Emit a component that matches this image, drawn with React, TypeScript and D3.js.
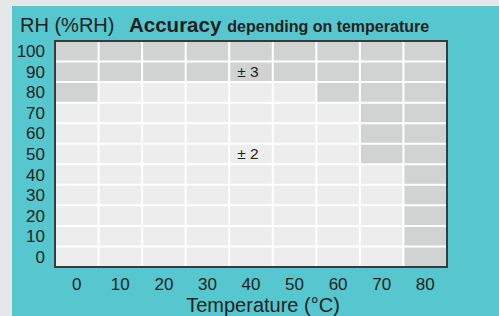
import React from 'react';
import * as d3 from 'd3';

// Accuracy grid: rows are RH (%RH), columns are temperature (°C)
const temps = ['0', '10', '20', '30', '40', '50', '60', '70', '80'];
const rhLevels = ['100', '90', '80', '70', '60', '50', '40', '30', '20', '10', '0'];

// accuracy (±%RH) for each RH row, per temperature column
const accuracy: number[][] = [
  [3, 3, 3, 3, 3, 3, 3, 3, 3], // 100
  [3, 3, 3, 3, 3, 3, 3, 3, 3], // 90
  [3, 2, 2, 2, 2, 2, 3, 3, 3], // 80
  [2, 2, 2, 2, 2, 2, 2, 3, 3], // 70
  [2, 2, 2, 2, 2, 2, 2, 3, 3], // 60
  [2, 2, 2, 2, 2, 2, 2, 3, 3], // 50
  [2, 2, 2, 2, 2, 2, 2, 2, 3], // 40
  [2, 2, 2, 2, 2, 2, 2, 2, 3], // 30
  [2, 2, 2, 2, 2, 2, 2, 2, 3], // 20
  [2, 2, 2, 2, 2, 2, 2, 2, 3], // 10
  [2, 2, 2, 2, 2, 2, 2, 2, 3], // 0
];

const zoneLabels = [
  { text: '± 3', temp: '40', rh: '90' },
  { text: '± 2', temp: '40', rh: '50' },
];

const W = 499;
const H = 316;
const FONT = '"Liberation Sans", Arial, Helvetica, sans-serif';
const TEXT = '#231f20';

export default function App() {
  const margin = { top: 41, right: 52, bottom: 49, left: 55 };

  const x = d3.scaleBand<string>()
    .domain(temps)
    .range([margin.left, W - margin.right]);

  const y = d3.scaleBand<string>()
    .domain(rhLevels)
    .range([margin.top, H - margin.bottom]);

  const color = d3.scaleOrdinal<number, string>()
    .domain([2, 3])
    .range(['#ededed', '#d1d3d2']);

  const [x0, x1] = x.range();
  const [y0, y1] = y.range();

  return (
    <svg
      width={W}
      height={H}
      style={{ position: 'absolute', left: 0, top: 0, display: 'block' }}
      fontFamily={FONT}
    >
      <rect width={W} height={H} fill="#e6e7e8" />
      <rect x={12} y={6} width={W - 12} height={H - 6} fill="#56c6cf" />

      {/* title */}
      <text x={20} y={32} fill={TEXT} fontSize={20}>
        RH (%RH)
        <tspan x={129} fontWeight="bold" fontSize={20.5}>Accuracy</tspan>
        <tspan dx={6} fontWeight="bold" fontSize={16}>depending on temperature</tspan>
      </text>

      {/* cells */}
      {rhLevels.map((rh, i) =>
        temps.map((t, j) => (
          <rect
            key={`${rh}-${t}`}
            x={x(t)}
            y={y(rh)}
            width={x.bandwidth()}
            height={y.bandwidth()}
            fill={color(accuracy[i][j])}
          />
        ))
      )}

      {/* white grid lines */}
      {temps.slice(1).map(t => (
        <line key={`v${t}`} x1={x(t)} x2={x(t)} y1={y0} y2={y1} stroke="#fff" strokeWidth={2} />
      ))}
      {rhLevels.slice(1).map(rh => (
        <line key={`h${rh}`} x1={x0} x2={x1} y1={y(rh)} y2={y(rh)} stroke="#fff" strokeWidth={2} />
      ))}

      {/* frame */}
      <rect x={x0} y={y0} width={x1 - x0} height={y1 - y0} fill="none" stroke="#3a3a3a" strokeWidth={2} />

      {/* zone labels */}
      {zoneLabels.map(d => (
        <text
          key={d.text}
          x={(x(d.temp) ?? 0) + x.bandwidth() / 2 - 3}
          y={(y(d.rh) ?? 0) + y.bandwidth() / 2 + 5}
          textAnchor="middle"
          fontSize={15.5}
          fill={TEXT}
        >
          {d.text}
        </text>
      ))}

      {/* y tick labels */}
      {rhLevels.map(rh => (
        <text
          key={`yl${rh}`}
          x={45}
          y={(y(rh) ?? 0) + y.bandwidth() / 2 + 6}
          textAnchor="end"
          fontSize={17}
          fill={TEXT}
        >
          {rh}
        </text>
      ))}

      {/* x tick labels */}
      {temps.map(t => (
        <text
          key={`xl${t}`}
          x={(x(t) ?? 0) + x.bandwidth() / 2}
          y={290}
          textAnchor="middle"
          fontSize={17}
          fill={TEXT}
        >
          {t}
        </text>
      ))}

      <text x={263} y={312} textAnchor="middle" fontSize={20} fill={TEXT}>
        Temperature (°C)
      </text>
    </svg>
  );
}
